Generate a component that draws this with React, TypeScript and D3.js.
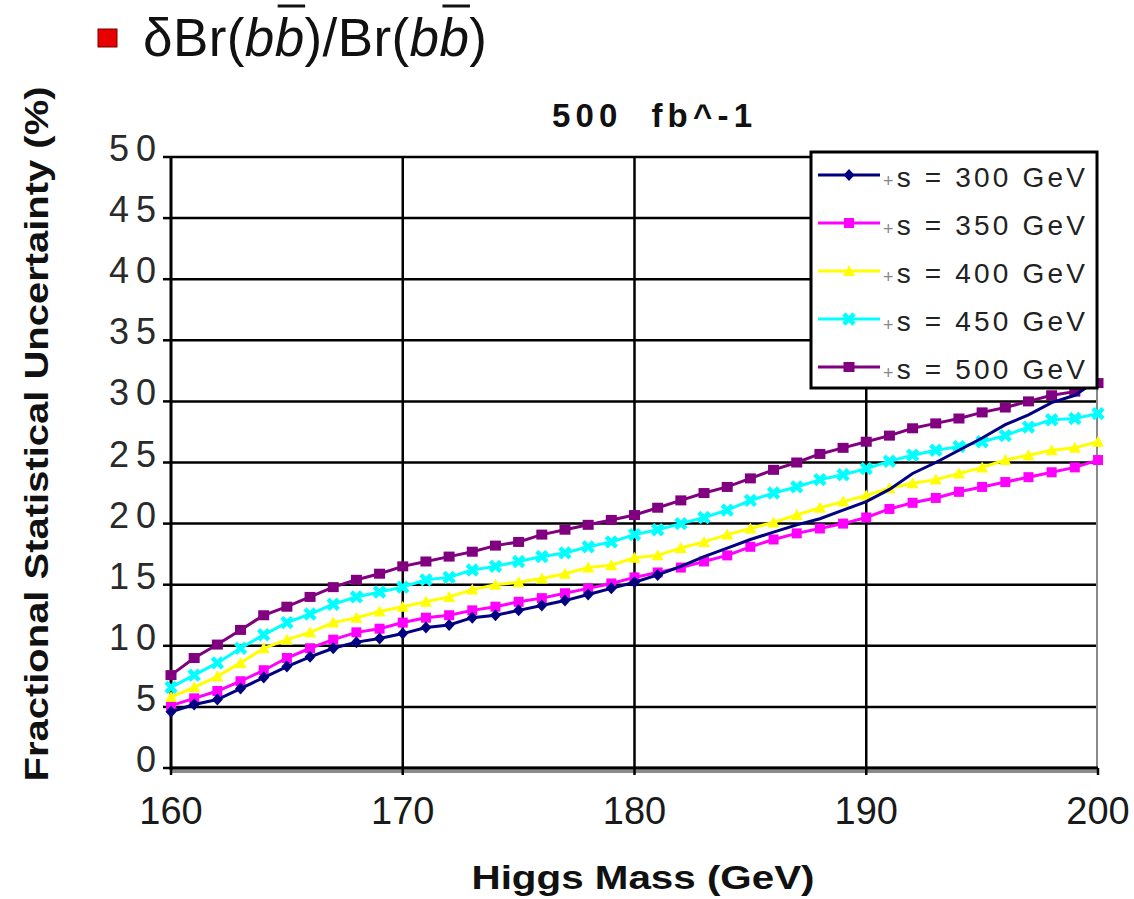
import React, { useEffect, useRef, useState } from 'react';
import * as d3 from 'd3';

// Higgs mass grid (GeV)
const higgsMass = [
  160, 161, 162, 163, 164, 165, 166, 167, 168, 169,
  170, 171, 172, 173, 174, 175, 176, 177, 178, 179,
  180, 181, 182, 183, 184, 185, 186, 187, 188, 189,
  190, 191, 192, 193, 194, 195, 196, 197, 198, 199, 200,
];

// Fractional statistical uncertainty (%) for each centre-of-mass energy
const sqrtS300 = [
  4.6, 5.2, 5.6, 6.5, 7.4, 8.3, 9.1, 9.8, 10.3, 10.6,
  11.0, 11.5, 11.7, 12.3, 12.5, 12.9, 13.3, 13.7, 14.2, 14.7,
  15.2, 15.8, 16.5, 17.3, 18.0, 18.7, 19.3, 19.9, 20.4, 21.1,
  21.8, 22.8, 24.1, 25.0, 26.0, 27.0, 28.1, 28.9, 29.9, 30.5, 31.8,
];
const sqrtS350 = [
  5.1, 5.7, 6.3, 7.1, 8.0, 9.0, 9.8, 10.5, 11.1, 11.4,
  11.9, 12.3, 12.5, 12.9, 13.2, 13.6, 13.9, 14.3, 14.7, 15.1,
  15.6, 16.0, 16.4, 16.9, 17.4, 18.1, 18.7, 19.2, 19.6, 20.0,
  20.5, 21.2, 21.7, 22.1, 22.6, 23.0, 23.4, 23.8, 24.2, 24.6, 25.2,
];
const sqrtS400 = [
  5.8, 6.6, 7.5, 8.6, 9.8, 10.5, 11.1, 11.9, 12.3, 12.8,
  13.2, 13.6, 14.0, 14.6, 15.0, 15.2, 15.5, 15.9, 16.4, 16.6,
  17.2, 17.4, 18.0, 18.5, 19.1, 19.6, 20.1, 20.7, 21.3, 21.8,
  22.3, 22.9, 23.3, 23.6, 24.1, 24.6, 25.2, 25.6, 26.0, 26.2, 26.7,
];
const sqrtS450 = [
  6.6, 7.6, 8.6, 9.8, 10.9, 11.9, 12.6, 13.4, 14.0, 14.4,
  14.8, 15.4, 15.6, 16.2, 16.5, 16.9, 17.3, 17.6, 18.1, 18.5,
  19.1, 19.5, 20.0, 20.5, 21.1, 21.9, 22.5, 23.0, 23.6, 24.0,
  24.5, 25.1, 25.6, 26.0, 26.3, 26.7, 27.2, 27.9, 28.5, 28.6, 29.0,
];
const sqrtS500 = [
  7.6, 9.0, 10.1, 11.3, 12.5, 13.2, 14.0, 14.8, 15.4, 15.9,
  16.5, 16.9, 17.3, 17.7, 18.2, 18.5, 19.1, 19.5, 19.9, 20.3,
  20.7, 21.3, 21.9, 22.5, 23.0, 23.7, 24.4, 25.0, 25.7, 26.2,
  26.7, 27.2, 27.8, 28.2, 28.6, 29.1, 29.5, 30.0, 30.5, 30.8, 31.5,
];

const energies = ['300', '350', '400', '450', '500'];
const yTicks = [0, 5, 10, 15, 20, 25, 30, 35, 40, 45, 50];
const xTicks = [160, 170, 180, 190, 200];
const xGridTicks = [170, 180, 190];

type Marker = 'diamond' | 'square' | 'triangle' | 'cross' | 'block';

interface Series {
  energy: string;
  values: number[];
  color: string;
  marker: Marker;
  markerUntil: number;
}

const series: Series[] = [
  { energy: energies[0], values: sqrtS300, color: '#000080', marker: 'diamond', markerUntil: 181 },
  { energy: energies[1], values: sqrtS350, color: '#ff00ff', marker: 'square', markerUntil: 200 },
  { energy: energies[2], values: sqrtS400, color: '#ffff00', marker: 'triangle', markerUntil: 200 },
  { energy: energies[3], values: sqrtS450, color: '#00ffff', marker: 'cross', markerUntil: 200 },
  { energy: energies[4], values: sqrtS500, color: '#800080', marker: 'block', markerUntil: 200 },
];

// back-to-front paint order: the 300 GeV curve sits on top
const paintOrder = [1, 2, 3, 4, 0];

const W = 1134;
const H = 899;
const FONT = "'Liberation Sans', Arial, Helvetica, sans-serif";

const x = d3.scaleLinear().domain([160, 200]).range([171, 1098]);
const y = d3.scaleLinear().domain([0, 50]).range([768, 157]);

function MarkerShape({ kind, cx, cy, color }: { kind: Marker; cx: number; cy: number; color: string }) {
  switch (kind) {
    case 'diamond':
      return (
        <polygon
          points={`${cx},${cy - 6} ${cx + 5.5},${cy} ${cx},${cy + 6} ${cx - 5.5},${cy}`}
          fill={color}
        />
      );
    case 'square':
      return <rect x={cx - 5} y={cy - 5} width={10} height={10} fill={color} />;
    case 'triangle':
      return (
        <polygon
          points={`${cx},${cy - 6} ${cx + 6},${cy + 5} ${cx - 6},${cy + 5}`}
          fill={color}
        />
      );
    case 'cross':
      return (
        <g stroke={color} strokeWidth={4.5} strokeLinecap="square">
          <line x1={cx - 3.5} y1={cy - 3.5} x2={cx + 3.5} y2={cy + 3.5} />
          <line x1={cx - 3.5} y1={cy + 3.5} x2={cx + 3.5} y2={cy - 3.5} />
        </g>
      );
    case 'block':
    default:
      return <rect x={cx - 5.5} y={cy - 5} width={11} height={10} fill={color} />;
  }
}

export default function App() {
  const formulaRef = useRef<SVGTextElement>(null);
  const [bars, setBars] = useState<{ x1: number; x2: number }[]>([]);

  useEffect(() => {
    const t = formulaRef.current;
    if (!t) return;
    // overlines above the anti-b characters
    const out = [5, 12].map((i) => {
      const e = t.getExtentOfChar(i);
      return { x1: e.x + 3, x2: e.x + e.width + 1 };
    });
    setBars(out);
  }, []);

  const line = d3
    .line<number>()
    .x((_, i) => x(higgsMass[i]))
    .y((d) => y(d));

  const legendX = 811;
  const legendY = 152;
  const rowY = (i: number) => 175 + i * 48;

  return (
    <svg
      width={W}
      height={H}
      viewBox={`0 0 ${W} ${H}`}
      style={{ position: 'absolute', left: 0, top: 0, background: '#fff' }}
      fontFamily={FONT}
    >
      <rect width={W} height={H} fill="#fff" />

      {/* heading formula */}
      <rect x={98} y={29} width={19} height={18} fill="#e80000" stroke="#700" strokeWidth={1} />
      <text ref={formulaRef} x={143} y={56} fontSize={53} fill="#111" textLength={344} lengthAdjust="spacing">
        <tspan>δBr(</tspan>
        <tspan fontStyle="italic">bb</tspan>
        <tspan>)/Br(</tspan>
        <tspan fontStyle="italic">bb</tspan>
        <tspan>)</tspan>
      </text>
      {bars.map((b, i) => (
        <line key={i} x1={b.x1} x2={b.x2} y1={6} y2={6} stroke="#111" strokeWidth={3} />
      ))}

      {/* chart title */}
      <text
        x={552}
        y={127}
        fontSize={33}
        fontWeight="bold"
        fill="#111"
        textLength={200}
        lengthAdjust="spacing"
        style={{ whiteSpace: 'pre' }}
      >
        {'500  fb^-1'}
      </text>

      {/* horizontal grid */}
      {yTicks.map((t) => (
        <line key={`h${t}`} x1={x(160)} x2={x(200)} y1={y(t)} y2={y(t)} stroke="#000" strokeWidth={2.5} />
      ))}
      {/* vertical grid */}
      {xGridTicks.map((t) => (
        <line key={`v${t}`} x1={x(t)} x2={x(t)} y1={y(50)} y2={y(0)} stroke="#000" strokeWidth={2.5} />
      ))}
      {/* right border */}
      <line x1={x(200) - 1} x2={x(200) - 1} y1={y(50)} y2={y(0)} stroke="#8a8a8a" strokeWidth={2} />
      {/* axes */}
      <line x1={x(160)} x2={x(160)} y1={y(50) - 1} y2={y(0) + 2} stroke="#000" strokeWidth={3} />
      <line x1={x(160)} x2={x(200)} y1={y(0) + 3.5} y2={y(0) + 3.5} stroke="#8a8a8a" strokeWidth={3} />
      <line x1={x(160)} x2={x(200)} y1={y(0)} y2={y(0)} stroke="#000" strokeWidth={3} />
      {yTicks.map((t) => (
        <line key={`yt${t}`} x1={x(160) - 8} x2={x(160)} y1={y(t)} y2={y(t)} stroke="#000" strokeWidth={2.5} />
      ))}
      {xTicks.map((t) => (
        <line key={`xt${t}`} x1={x(t)} x2={x(t)} y1={y(0)} y2={y(0) + 7} stroke="#000" strokeWidth={2.5} />
      ))}

      {/* y tick labels */}
      {yTicks.map((t) => (
        <text
          key={`yl${t}`}
          x={163}
          y={y(t) + 4}
          textAnchor="end"
          fontSize={36}
          letterSpacing={7}
          fill="#2a2a2a"
        >
          {t}
        </text>
      ))}

      {/* x tick labels */}
      {xTicks.map((t) => (
        <text key={`xl${t}`} x={x(t)} y={824} textAnchor="middle" fontSize={38} fill="#1a1a1a">
          {t}
        </text>
      ))}

      {/* axis titles */}
      <text
        x={643}
        y={889}
        textAnchor="middle"
        fontSize={34}
        fontWeight="bold"
        fill="#111"
        textLength={343}
        lengthAdjust="spacingAndGlyphs"
      >
        Higgs Mass (GeV)
      </text>
      <text
        transform="translate(48,434) rotate(-90)"
        textAnchor="middle"
        fontSize={34}
        fontWeight="bold"
        fill="#111"
        textLength={695}
        lengthAdjust="spacingAndGlyphs"
      >
        Fractional Statistical Uncertainty (%)
      </text>

      {/* series */}
      {paintOrder.map((si) => {
        const s = series[si];
        return (
          <g key={s.energy}>
            <path d={line(s.values) ?? ''} fill="none" stroke={s.color} strokeWidth={3} />
            {s.values.map((v, i) =>
              higgsMass[i] <= s.markerUntil ? (
                <MarkerShape key={i} kind={s.marker} cx={x(higgsMass[i])} cy={y(v)} color={s.color} />
              ) : null
            )}
          </g>
        );
      })}

      {/* legend */}
      <rect x={legendX} y={legendY} width={286} height={236} fill="#fff" stroke="#000" strokeWidth={3} />
      {series.map((s, i) => (
        <g key={`lg${s.energy}`}>
          <line x1={818} x2={880} y1={rowY(i)} y2={rowY(i)} stroke={s.color} strokeWidth={3} />
          <MarkerShape kind={s.marker} cx={849} cy={rowY(i)} color={s.color} />
          <text
            x={883}
            y={rowY(i) + 12}
            fontSize={28}
            fill="#222"
            textLength={202}
            lengthAdjust="spacing"
          >
            <tspan fontSize={18} fill="#888">+</tspan>
            <tspan>{`s = ${s.energy} GeV`}</tspan>
          </text>
        </g>
      ))}
    </svg>
  );
}
